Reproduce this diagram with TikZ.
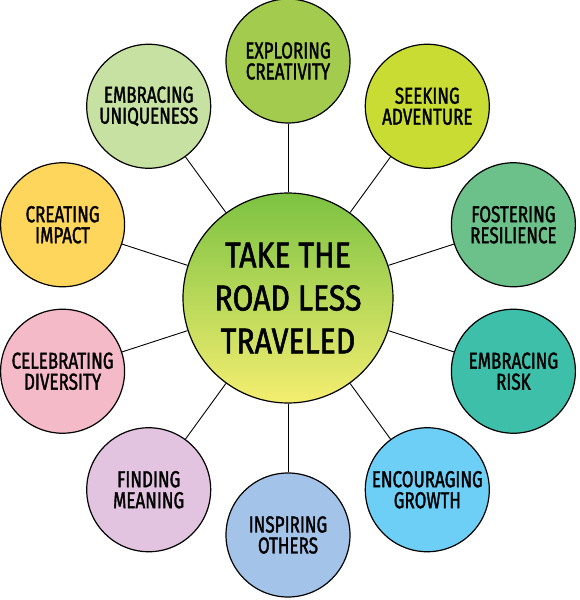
\documentclass[tikz,border=0pt]{standalone}
\usepackage{fontspec}
\setmainfont{Fira Sans}[FakeStretch=0.74,FakeBold=1.5]
\newfontfamily\hubfont{Fira Sans}[FakeStretch=0.84,FakeBold=1.5]
\usepackage{tikz}
\definecolor{hubtop}{HTML}{7CC242}
\definecolor{hubmid}{HTML}{AFD648}
\definecolor{hubbottom}{HTML}{F4EE70}
\definecolor{cexplore}{HTML}{A3CC4E}
\definecolor{cseek}{HTML}{C9DC33}
\definecolor{cfoster}{HTML}{6CC08A}
\definecolor{crisk}{HTML}{3DBFAA}
\definecolor{cgrowth}{HTML}{6DCFF6}
\definecolor{cinspire}{HTML}{A4C3E8}
\definecolor{cmeaning}{HTML}{E2C3E0}
\definecolor{cdiversity}{HTML}{F5BAC8}
\definecolor{cimpact}{HTML}{FFD65C}
\definecolor{cunique}{HTML}{C6E1A1}
\tikzstyle{hub}=[circle,draw=black,line width=1.2pt,minimum size=210pt,inner sep=0pt,
align=center,top color=hubtop,middle color=hubmid,bottom color=hubbottom,
font=\hubfont\fontsize{36}{43}\selectfont]
\tikzstyle{bubble}=[circle,draw=black,line width=1.2pt,minimum size=124pt,inner sep=0pt,
align=center,font=\fontsize{23}{21}\selectfont]
\tikzstyle{spoke}=[line width=0.9pt]

\begin{document}
\begin{tikzpicture}[x=1pt,y=1pt]
    \useasboundingbox (-288,-302) rectangle (292,298);
        \node (road) [hub] at (0,0) {TAKE THE\\ROAD LESS\\TRAVELED};
        \node (exploring) [bubble,fill=cexplore] at (90:237pt) {EXPLORING\\CREATIVITY};
        \node (seeking) [bubble,fill=cseek] at (54:237pt) {SEEKING\\ADVENTURE};
        \node (fostering) [bubble,fill=cfoster] at (18:237pt) {FOSTERING\\RESILIENCE};
        \node (risk) [bubble,fill=crisk] at (-18:237pt) {EMBRACING\\RISK};
        \node (growth) [bubble,fill=cgrowth] at (-54:237pt) {ENCOURAGING\\GROWTH};
        \node (inspiring) [bubble,fill=cinspire] at (-90:237pt) {INSPIRING\\OTHERS};
        \node (meaning) [bubble,fill=cmeaning] at (-126:237pt) {FINDING\\MEANING};
        \node (diversity) [bubble,fill=cdiversity] at (-162:237pt) {CELEBRATING\\DIVERSITY};
        \node (impact) [bubble,fill=cimpact] at (162:237pt) {CREATING\\IMPACT};
        \node (uniqueness) [bubble,fill=cunique] at (126:237pt) {EMBRACING\\UNIQUENESS};

        \draw [spoke] (road) -- (exploring);
        \draw [spoke] (road) -- (seeking);
        \draw [spoke] (road) -- (fostering);
        \draw [spoke] (road) -- (risk);
        \draw [spoke] (road) -- (growth);
        \draw [spoke] (road) -- (inspiring);
        \draw [spoke] (road) -- (meaning);
        \draw [spoke] (road) -- (diversity);
        \draw [spoke] (road) -- (impact);
        \draw [spoke] (road) -- (uniqueness);
    \end{tikzpicture}
\end{document}
